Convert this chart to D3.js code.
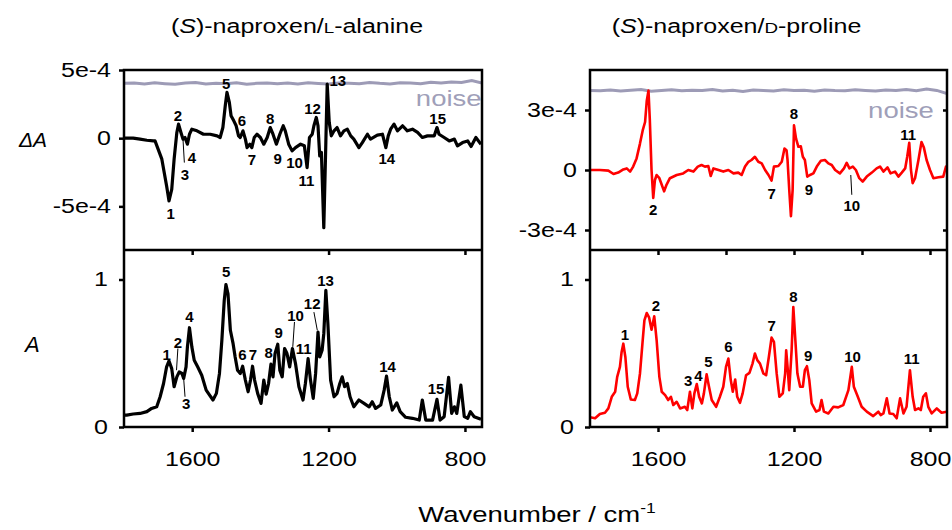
<!DOCTYPE html>
<html>
<head>
<meta charset="utf-8">
<script src="https://cdn.jsdelivr.net/npm/d3@7"></script>
<style>
body { margin: 0; background: #fff; }
svg text { font-family: "Liberation Sans", Arial, sans-serif; }
</style>
</head>
<body>
<svg id="chart" width="952" height="530"></svg>
<script>

// Spectra, [wavenumber (cm-1), value]; difference spectra in units of 1e-4
const alanineDiff = [
	[1800,0],[1792,0],[1773,0],[1753,-0.07],[1733,-0.15],[1714,-0.2],[1709,-0.2],[1689,-1.54],[1675,-3.5],[1668,-4.6],
	[1660,-3.75],[1653,-1.54],[1645,0.42],[1640,1.03],[1633,0.42],[1627,-0.07],[1621,0.05],[1614,-0.44],[1608,0.29],
	[1601,0.66],[1586,0.54],[1567,0.29],[1547,0.29],[1527,0.17],[1518,0.05],[1510,0.78],[1503,2.38],[1498,3.36],
	[1491,2.62],[1486,1.64],[1478,1.27],[1471,0.91],[1464,0.17],[1459,0.05],[1451,0.54],[1444,-0.07],[1439,-0.69],
	[1431,-0.44],[1425,-0.69],[1418,0.05],[1410,0.29],[1400,0.05],[1390,-0.44],[1380,0.05],[1371,0.78],[1363,0.29],
	[1353,-0.44],[1343,0.29],[1333,0.91],[1327,0.54],[1317,-0.44],[1307,-0.93],[1297,-0.69],[1282,-0.44],[1271,-0.56],
	[1263,-2.16],[1256,0.05],[1248,0.29],[1243,0.91],[1236,1.52],[1231,0.91],[1226,-1.3],[1221,-1.05],[1214,-6.57],
	[1208,-0.32],[1204,3.97],[1198,1.15],[1192,0.17],[1184,0.54],[1175,0.78],[1165,0.17],[1155,0.54],[1145,0.66],
	[1135,0.17],[1126,-0.07],[1111,-0.69],[1101,-0.32],[1086,0.29],[1077,-0.07],[1057,0.22],[1042,0.29],[1032,-0.69],
	[1025,0.17],[1018,0.66],[1008,1.03],[998,0.54],[983,0.91],[969,0.54],[954,0.66],[939,0.42],[925,0.05],[910,0.17],
	[890,0.17],[882,0.78],[876,0.29],[861,0.05],[846,-0.2],[831,-0.07],[822,-0.56],[807,-0.32],[792,-0.2],[782,-0.61],
	[768,0.05],[753,-0.44]
];

const alanineAbs = [
	[1800,0.08],[1792,0.081],[1773,0.088],[1753,0.092],[1733,0.104],[1719,0.126],[1704,0.137],[1694,0.205],[1684,0.295],
	[1675,0.408],[1668,0.448],[1660,0.396],[1653,0.273],[1645,0.34],[1638,0.374],[1630,0.363],[1625,0.329],[1618,0.408],
	[1614,0.543],[1608,0.673],[1601,0.543],[1594,0.453],[1584,0.408],[1572,0.351],[1559,0.25],[1549,0.216],[1539,0.183],
	[1529,0.228],[1520,0.363],[1513,0.588],[1506,0.858],[1501,0.966],[1495,0.903],[1488,0.656],[1480,0.565],[1474,0.475],
	[1467,0.385],[1459,0.363],[1452,0.412],[1444,0.318],[1436,0.239],[1429,0.318],[1423,0.412],[1417,0.318],[1408,0.228],
	[1398,0.16],[1390,0.318],[1383,0.223],[1376,0.295],[1369,0.426],[1363,0.34],[1357,0.498],[1349,0.561],[1343,0.385],
	[1336,0.34],[1329,0.532],[1322,0.498],[1314,0.408],[1306,0.532],[1297,0.43],[1287,0.273],[1275,0.183],[1268,0.295],
	[1260,0.464],[1253,0.318],[1245,0.194],[1238,0.363],[1231,0.644],[1226,0.475],[1219,0.52],[1214,0.633],[1208,0.926],
	[1202,0.7],[1194,0.318],[1184,0.205],[1175,0.228],[1167,0.295],[1160,0.34],[1153,0.273],[1145,0.295],[1137,0.205],
	[1126,0.137],[1111,0.183],[1096,0.16],[1081,0.137],[1072,0.171],[1062,0.126],[1047,0.149],[1037,0.25],[1030,0.345],
	[1022,0.205],[1013,0.115],[1000,0.164],[990,0.104],[974,0.066],[954,0.059],[934,0.047],[925,0.183],[915,0.047],
	[895,0.047],[882,0.187],[873,0.047],[861,0.07],[848,0.336],[839,0.092],[831,0.137],[824,0.092],[812,0.284],
	[802,0.07],[792,0.059],[784,0.104],[773,0.07],[753,0.052]
];

const prolineDiff = [
	[1800,0],[1771,0],[1746,-0.03],[1731,-0.2],[1717,-0.13],[1702,0.03],[1692,0.08],[1682,-0.08],[1673,0.17],[1663,0.58],
	[1653,1.32],[1645,1.98],[1638,2.4],[1633,3.47],[1628,3.97],[1624,2.48],[1619,0],[1614,-1.4],[1609,-0.5],[1604,-0.25],
	[1596,-0.41],[1589,-0.74],[1582,-1.07],[1575,-0.74],[1565,-0.41],[1545,-0.25],[1526,-0.17],[1511,0],[1496,-0.08],
	[1483,0.17],[1472,0.25],[1462,0.17],[1452,0.2],[1445,-0.3],[1437,0.08],[1422,0],[1408,-0.08],[1393,0],[1378,-0.17],
	[1364,-0.13],[1354,-0.25],[1344,0.17],[1334,0.41],[1325,0.5],[1315,0.66],[1305,0.41],[1295,0.33],[1285,0],
	[1275,-0.25],[1266,-0.53],[1259,0.17],[1246,0.2],[1236,0.41],[1228,1.07],[1222,0.99],[1219,0.5],[1214,-0.99],
	[1209,-2.31],[1204,-0.99],[1200,2.23],[1194,1.57],[1187,1.16],[1180,1.19],[1174,0.66],[1168,0.5],[1161,-0.33],
	[1153,-0.25],[1143,-0.17],[1133,0.17],[1121,0.46],[1109,0.5],[1099,0.33],[1089,0.25],[1079,0],[1065,-0.17],
	[1053,0.08],[1045,0.36],[1037,0.08],[1027,0.17],[1018,0],[1008,-0.41],[998,-0.58],[986,-0.33],[971,-0.13],[957,0.08],
	[947,0.17],[937,-0.08],[925,0.13],[916,-0.17],[903,-0.08],[893,-0.33],[883,-0.13],[873,0.08],[867,0.66],[861,1.36],
	[856,0],[851,-0.66],[844,-0.41],[834,0.5],[825,1.4],[818,1.12],[810,0.5],[800,0],[790,-0.41],[775,-0.36],[761,-0.33],
	[753,0.17],[750,0.2]
];

const prolineAbs = [
	[1800,0.066],[1785,0.059],[1771,0.088],[1756,0.097],[1746,0.126],[1736,0.205],[1726,0.239],[1720,0.34],[1712,0.408],
	[1707,0.509],[1702,0.565],[1696,0.475],[1689,0.273],[1680,0.187],[1668,0.183],[1661,0.228],[1653,0.363],[1645,0.588],
	[1640,0.723],[1633,0.773],[1626,0.741],[1619,0.66],[1611,0.75],[1604,0.588],[1596,0.34],[1589,0.239],[1579,0.216],
	[1570,0.183],[1562,0.205],[1555,0.149],[1545,0.171],[1535,0.126],[1521,0.137],[1514,0.115],[1506,0.239],[1499,0.126],
	[1493,0.228],[1486,0.291],[1479,0.205],[1471,0.16],[1465,0.228],[1457,0.358],[1450,0.273],[1442,0.183],[1429,0.137],
	[1418,0.205],[1408,0.273],[1400,0.408],[1393,0.464],[1386,0.318],[1380,0.239],[1373,0.322],[1367,0.205],[1359,0.164],
	[1351,0.228],[1341,0.351],[1331,0.367],[1322,0.43],[1315,0.498],[1308,0.453],[1300,0.43],[1290,0.363],[1282,0.351],
	[1274,0.475],[1266,0.606],[1259,0.577],[1251,0.363],[1243,0.205],[1233,0.228],[1226,0.363],[1223,0.52],[1219,0.408],
	[1214,0.25],[1207,0.52],[1202,0.813],[1196,0.588],[1190,0.363],[1182,0.273],[1174,0.273],[1168,0.385],[1162,0.412],
	[1155,0.318],[1148,0.16],[1135,0.104],[1125,0.115],[1119,0.183],[1112,0.104],[1099,0.092],[1084,0.137],[1070,0.133],
	[1055,0.149],[1040,0.25],[1030,0.408],[1024,0.273],[1014,0.216],[1001,0.137],[986,0.104],[967,0.074],[952,0.104],
	[945,0.081],[937,0.092],[927,0.194],[919,0.092],[908,0.088],[898,0.059],[888,0.194],[878,0.092],[869,0.137],
	[859,0.385],[851,0.205],[844,0.115],[834,0.126],[827,0.115],[820,0.205],[812,0.228],[805,0.137],[795,0.092],
	[780,0.126],[766,0.097],[751,0.104]
];

// Noise level traces (units of 1e-4)
const noiseWn = [1800,1770,1740,1710,1680,1650,1620,1590,1560,1530,1500,1470,1440,1410,1380,1350,1320,1290,
	1260,1230,1200,1170,1140,1110,1080,1050,1020,990,960,930,900,870,840,810,780,750];
const noiseAlanine = [4.02,4.05,3.98,4.06,4.0,3.95,4.04,4.08,3.97,4.03,4.0,4.07,3.96,4.02,4.05,3.99,4.04,3.98,
	4.06,4.01,3.97,4.05,4.03,3.99,4.08,4.02,3.98,4.06,4.04,4.0,4.1,4.05,4.12,4.08,4.22,4.05];
const noiseProline = [3.98,3.96,4.0,3.95,3.99,4.02,3.94,3.98,4.01,3.96,3.99,3.97,4.02,3.95,3.99,3.93,4.0,3.97,
	3.95,4.01,3.97,3.99,3.94,4.0,3.97,3.96,4.01,3.98,3.95,4.0,3.97,4.02,3.96,4.05,3.98,3.82];

// Peak labels: [label, wavenumber, value]
const alanineDiffLabels = [["1",1663,-5.51],["2",1642,1.69],["3",1621,-2.65],["4",1601,-1.42],["5",1500,3.97],
	["6",1454,1.27],["7",1425,-1.54],["8",1371,1.4],["9",1349,-1.49],["10",1300,-1.79],["11",1265,-3.13],
	["12",1247,2.18],["13",1173,4.21],["14",1029,-1.47],["15",880,1.4]];
const alanineAbsLabels = [["1",1675,0.493],["2",1642,0.57],["3",1618,0.16],["4",1608,0.75],["5",1500,1.056],
	["6",1453,0.493],["7",1422,0.493],["8",1376,0.502],["9",1346,0.637],["10",1297,0.757],["11",1273,0.531],
	["12",1248,0.836],["13",1209,0.993],["14",1027,0.412],["15",885,0.257]];
const prolineDiffLabels = [["2",1614,-2.0],["7",1266,-1.19],["8",1200,2.81],["9",1156,-0.96],["10",1030,-1.77],["11",864,1.79]];
const prolineAbsLabels = [["1",1697,0.628],["2",1606,0.824],["3",1511,0.313],["4",1481,0.351],["5",1452,0.441],
	["6",1393,0.543],["7",1266,0.689],["8",1202,0.885],["9",1158,0.487],["10",1028,0.48],["11",854,0.464]];

// Leader lines: [wn1, v1, wn2, v2]
const alanineDiffLeaders = [[1627,-0.07,1623,-1.79]];
const alanineAbsLeaders = [[1642,0.532,1646,0.385],[1625,0.329,1621,0.205],[1300,0.712,1305,0.543],[1243,0.779,1233,0.655]];
const prolineDiffLeaders = [[1033,-0.25,1030,-1.24]];

const xTicks = [1600, 1200, 800];
const stretch = 1.25;

const svg = d3.select("#chart");

// Stretched text helper
function label(g, x, y, anchor, size, k) {
	return g.append("text")
		.attr("transform", `translate(${x},${y}) scale(${k || stretch},1)`)
		.attr("text-anchor", anchor)
		.style("font-size", size + "px");
}

// Draw one column (difference + absorbance panel)
function drawColumn(opt) {
	const g = svg.append("g");
	const x = d3.scaleLinear().domain([1800, 750]).range([opt.x0, opt.x1]);
	const yTop = d3.scaleLinear().domain(opt.diffDomain).range([250, 70]);
	const yBot = d3.scaleLinear().domain([0, 1.2]).range([427, 250]);

	// clip
	const clipId = "clip" + opt.x0;
	svg.append("clipPath").attr("id", clipId)
		.append("rect").attr("x", opt.x0).attr("y", 70).attr("width", opt.x1 - opt.x0).attr("height", 357);

	const plot = g.append("g").attr("clip-path", `url(#${clipId})`);

	// noise line
	const noiseLine = d3.line().x((d, i) => x(noiseWn[i])).y(d => yTop(d));
	plot.append("path").attr("d", noiseLine(opt.noise))
		.attr("fill", "none").attr("stroke", "#9d9bb6").attr("stroke-width", 3);

	const line = (ys) => d3.line().x(d => x(d[0])).y(d => ys(d[1])).curve(d3.curveLinear);

	plot.append("path").attr("d", line(yTop)(opt.diff))
		.attr("fill", "none").attr("stroke", opt.color).attr("stroke-width", opt.width)
		.attr("stroke-linejoin", "round");
	plot.append("path").attr("d", line(yBot)(opt.abs))
		.attr("fill", "none").attr("stroke", opt.color).attr("stroke-width", opt.width)
		.attr("stroke-linejoin", "round");

	// noise text
	label(g, x(opt.noiseLabel[0]), yTop(opt.noiseLabel[1]), "start", 22)
		.attr("fill", "#a09fb9").text("noise");

	// peak labels
	const peaks = (data, ys) => g.append("g").selectAll("text").data(data).join("text")
		.attr("x", d => x(d[1])).attr("y", d => ys(d[2])).attr("dy", "0.36em")
		.attr("text-anchor", "middle").style("font-size", "15px").style("font-weight", "bold")
		.text(d => d[0]);
	peaks(opt.diffLabels, yTop);
	peaks(opt.absLabels, yBot);

	const leaders = (data, ys) => g.append("g").selectAll("line").data(data).join("line")
		.attr("x1", d => x(d[0])).attr("y1", d => ys(d[1]))
		.attr("x2", d => x(d[2])).attr("y2", d => ys(d[3]))
		.attr("stroke", "#000").attr("stroke-width", 1);
	leaders(opt.diffLeaders, yTop);
	leaders(opt.absLeaders, yBot);

	// axes
	const styleAxis = (a, size) => {
		a.select(".domain").remove();
		a.selectAll(".tick line").attr("stroke", "#000").attr("stroke-width", 2.5);
		a.selectAll("text").style("font-size", size + "px").attr("fill", "#000");
	};

	const fmt = d => d === 0 ? "0" : d + "e-4";
	const ayTop = g.append("g").attr("transform", `translate(${opt.x0},0)`)
		.call(d3.axisLeft(yTop).tickValues(opt.diffTicks).tickSize(5).tickFormat(fmt));
	styleAxis(ayTop, 20);
	ayTop.selectAll("text").attr("x", opt.labelOff / stretch).attr("transform", `scale(${stretch},1)`);

	const ayBot = g.append("g").attr("transform", `translate(${opt.x0},0)`)
		.call(d3.axisLeft(yBot).tickValues([0, 1]).tickSize(5).tickFormat(d3.format("d")));
	styleAxis(ayBot, 20);
	ayBot.selectAll("text").attr("x", opt.absLabelOff / stretch).attr("transform", `scale(${stretch},1)`);

	if (opt.rightTicks) {
		const ayR = g.append("g").attr("transform", `translate(${opt.x1},0)`)
			.call(d3.axisRight(yTop).tickValues(opt.rightTicks).tickSize(-4).tickFormat(""));
		styleAxis(ayR, 20);
	}

	const axMid = g.append("g").attr("transform", "translate(0,250)")
		.call(d3.axisBottom(x).tickValues(opt.midTicks).tickSize(5).tickFormat(""));
	styleAxis(axMid, 20);

	const axBot = g.append("g").attr("transform", "translate(0,427)")
		.call(d3.axisBottom(x).tickValues(xTicks).tickSize(5).tickFormat(d3.format("d")));
	styleAxis(axBot, 20);
	axBot.selectAll("text").attr("y", 25).attr("transform", `scale(${stretch},1)`);

	// frames
	g.append("rect").attr("x", opt.x0).attr("y", 70).attr("width", opt.x1 - opt.x0).attr("height", 357)
		.attr("fill", "none").attr("stroke", "#000").attr("stroke-width", 2.5);
	g.append("line").attr("x1", opt.x0).attr("x2", opt.x1).attr("y1", 250).attr("y2", 250)
		.attr("stroke", "#000").attr("stroke-width", 2.5);

	// title
	const t = label(svg, (opt.x0 + opt.x1) / 2 + opt.titleShift, 33, "middle", 20);
	t.append("tspan").text("(");
	t.append("tspan").style("font-style", "italic").text("S");
	t.append("tspan").text(")-naproxen/");
	t.append("tspan").style("font-size", "15px").text(opt.smallCap);
	t.append("tspan").text(opt.titleRest);
}

drawColumn({
	x0: 124, x1: 482, color: "#000", width: 3.2,
	diff: alanineDiff, abs: alanineAbs, noise: noiseAlanine,
	diffDomain: [-8.2, 5], diffTicks: [-5, 0, 5], labelOff: -13, absLabelOff: -16,
	midTicks: xTicks, rightTicks: null,
	diffLabels: alanineDiffLabels, absLabels: alanineAbsLabels,
	diffLeaders: alanineDiffLeaders, absLeaders: alanineAbsLeaders,
	noiseLabel: [944, 2.35],
	smallCap: "L", titleRest: "-alanine", titleShift: -6
});

drawColumn({
	x0: 590, x1: 947, color: "#ff0000", width: 2.6,
	diff: prolineDiff, abs: prolineAbs, noise: noiseProline,
	diffDomain: [-4, 5], diffTicks: [-3, 0, 3], labelOff: -13, absLabelOff: -16,
	midTicks: [1600, 1400, 1200, 1000, 800], rightTicks: [-3, 3],
	diffLabels: prolineDiffLabels, absLabels: prolineAbsLabels,
	diffLeaders: prolineDiffLeaders, absLeaders: [],
	noiseLabel: [982, 2.58],
	smallCap: "D", titleRest: "-proline", titleShift: -32
});

// Axis titles
const dA = label(svg, 19, 147, "start", 21, 1).style("font-style", "italic");
dA.append("tspan").text("\u0394");
dA.append("tspan").text("A");
label(svg, 25, 352, "start", 22, 1).style("font-style", "italic").text("A");

const xt = label(svg, 537, 522, "middle", 22);
xt.append("tspan").text("Wavenumber / cm");
xt.append("tspan").attr("dy", -9).style("font-size", "14px").text("-1");

</script>
</body>
</html>
